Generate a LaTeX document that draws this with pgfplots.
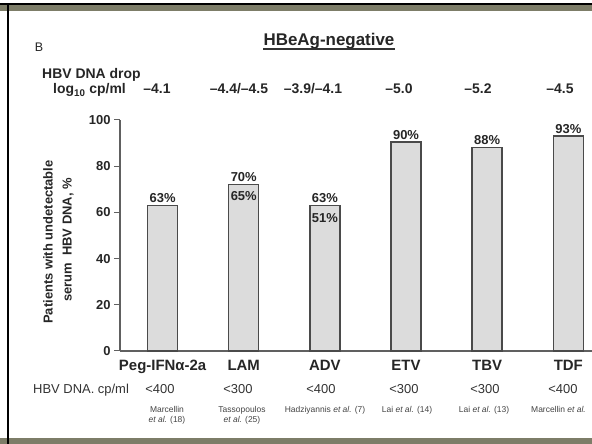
\documentclass[border=0pt]{standalone}
\usepackage{fontspec}
\setmainfont{Liberation Sans}
\usepackage{pgfplots}
\usepackage{pgfplotstable}
\pgfplotsset{compat=1.18}
\definecolor{framegray}{HTML}{7D7D68}
\definecolor{barfill}{HTML}{DCDCDC}
\definecolor{baredge}{HTML}{4A4A4A}
\definecolor{axisgray}{HTML}{606060}
\definecolor{reftext}{HTML}{444444}
\newcommand{\fs}[1]{\fontsize{#1}{#1}\selectfont}

\pgfplotstableread{
x y lab
0 63 63
1 72 70
2 63 63
3 90.5 90
4 88 88
5 93 93
}\bars

\begin{document}
\begin{tikzpicture}
\useasboundingbox (0,0) rectangle (592bp,444bp);
\clip (0,0) rectangle (592bp,444bp);
\fill[white] (0,0) rectangle (592bp,444bp);
\begin{axis}[
  at={(120bp,93bp)}, anchor=south west,
  scale only axis, width=497bp, height=231bp,
  xmin=-0.525, xmax=5.6, ymin=0, ymax=100,
  axis x line=bottom, axis y line=left,
  axis line style={axisgray, line width=1.2bp, -},
  ytick={0,20,...,100},
  tick align=outside, major tick length=6bp,
  y tick style={axisgray, line width=1bp},
  x tick style={draw=none},
  xtick={0,...,5},
  xticklabels={Peg-IFNα-2a, LAM, ADV, ETV, TBV, TDF},
  /pgf/number format/assume math mode=true,
  yticklabel style={font=\bfseries\fs{13}, text=black!85},
  xticklabel style={font=\bfseries\fs{15}, text=black!85, yshift=0bp},
  ybar, bar width=30bp,
  clip=false,
]
\addplot[fill=barfill, draw=baredge, line width=1.4bp,
  point meta=explicit symbolic,
  nodes near coords={\pgfplotspointmeta\%},
  every node near coord/.append style={font=\bfseries\fs{13}, text=black!85, inner sep=2bp}]
  table[x=x, y=y, meta=lab] {\bars};
\node[font=\bfseries\fs{13}, text=black!85] at (axis cs:1,67.1) {65\%};
\node[font=\bfseries\fs{13}, text=black!85] at (axis cs:2,57.6) {51\%};
\end{axis}

\begin{scope}[x=1bp, y=-1bp, yshift=444bp]
  % frame
  \fill[black] (0,3) rectangle (592,5);
  \fill[framegray] (0,5) rectangle (592,11);
  \fill[framegray] (0,438) rectangle (592,444);
  \fill[black] (7,3) rectangle (9.3,444);
  % header
  \node[anchor=base, font=\fs{12.5}, text=black!85] at (39,52) {B};
  \node (T) [anchor=base, inner sep=0, font=\bfseries\fs{17}, text=black!85] at (329,46) {HBeAg-negative};
  \draw[line width=1.2bp, black!80] ([yshift=-3bp]T.base west) -- ([yshift=-3bp]T.base east);
  \node[anchor=base west, inner sep=0, font=\bfseries\fs{14}, text=black!85] at (42,79) {HBV DNA drop};
  \node[anchor=base west, inner sep=0, font=\bfseries\fs{14}, text=black!85] at (53,94) {log\textsubscript{10} cp/ml};
  \foreach \xx/\tt in {157/{--4.1}, 239/{--4.4/--4.5}, 313/{--3.9/--4.1}, 399/{--5.0}, 478/{--5.2}, 560/{--4.5}}
    \node[anchor=base, inner sep=0, font=\bfseries\fs{14}, text=black!85] at (\xx,94) {\tt};
  % y label
  \node[rotate=90, font=\bfseries\fs{13}, text=black!85] at (48,242) {Patients with undetectable};
  \node[rotate=90, font=\bfseries\fs{13}, text=black!85] at (68,240) {serum\ \ HBV DNA, \%};
  % bottom rows
  \node[anchor=base west, inner sep=0, font=\fs{13}, text=black!80] at (33,394) {HBV DNA. cp/ml};
  \foreach \xx/\tt in {160/{<400}, 238/{<300}, 321/{<400}, 404/{<300}, 485/{<300}, 563/{<400}}
    \node[anchor=base, inner sep=0, font=\fs{13}, text=black!80] at (\xx,394) {\tt};
  \node[anchor=base, inner sep=0, font=\fs{8.5}, text=reftext] at (167,413) {Marcellin};
  \node[anchor=base, inner sep=0, font=\fs{8.5}, text=reftext] at (167,423) {\textit{et al.} (18)};
  \node[anchor=base, inner sep=0, font=\fs{8.5}, text=reftext] at (242,413) {Tassopoulos};
  \node[anchor=base, inner sep=0, font=\fs{8.5}, text=reftext] at (242,423) {\textit{et al.} (25)};
  \node[anchor=base, inner sep=0, font=\fs{8.5}, text=reftext] at (325,413) {Hadziyannis \textit{et al.} (7)};
  \node[anchor=base, inner sep=0, font=\fs{8.5}, text=reftext] at (407,413) {Lai \textit{et al.} (14)};
  \node[anchor=base, inner sep=0, font=\fs{8.5}, text=reftext] at (484,413) {Lai \textit{et al.} (13)};
  \node[anchor=base west, inner sep=0, font=\fs{8.5}, text=reftext] at (531,413) {Marcellin \textit{et al.}};
\end{scope}
\end{tikzpicture}
\end{document}
